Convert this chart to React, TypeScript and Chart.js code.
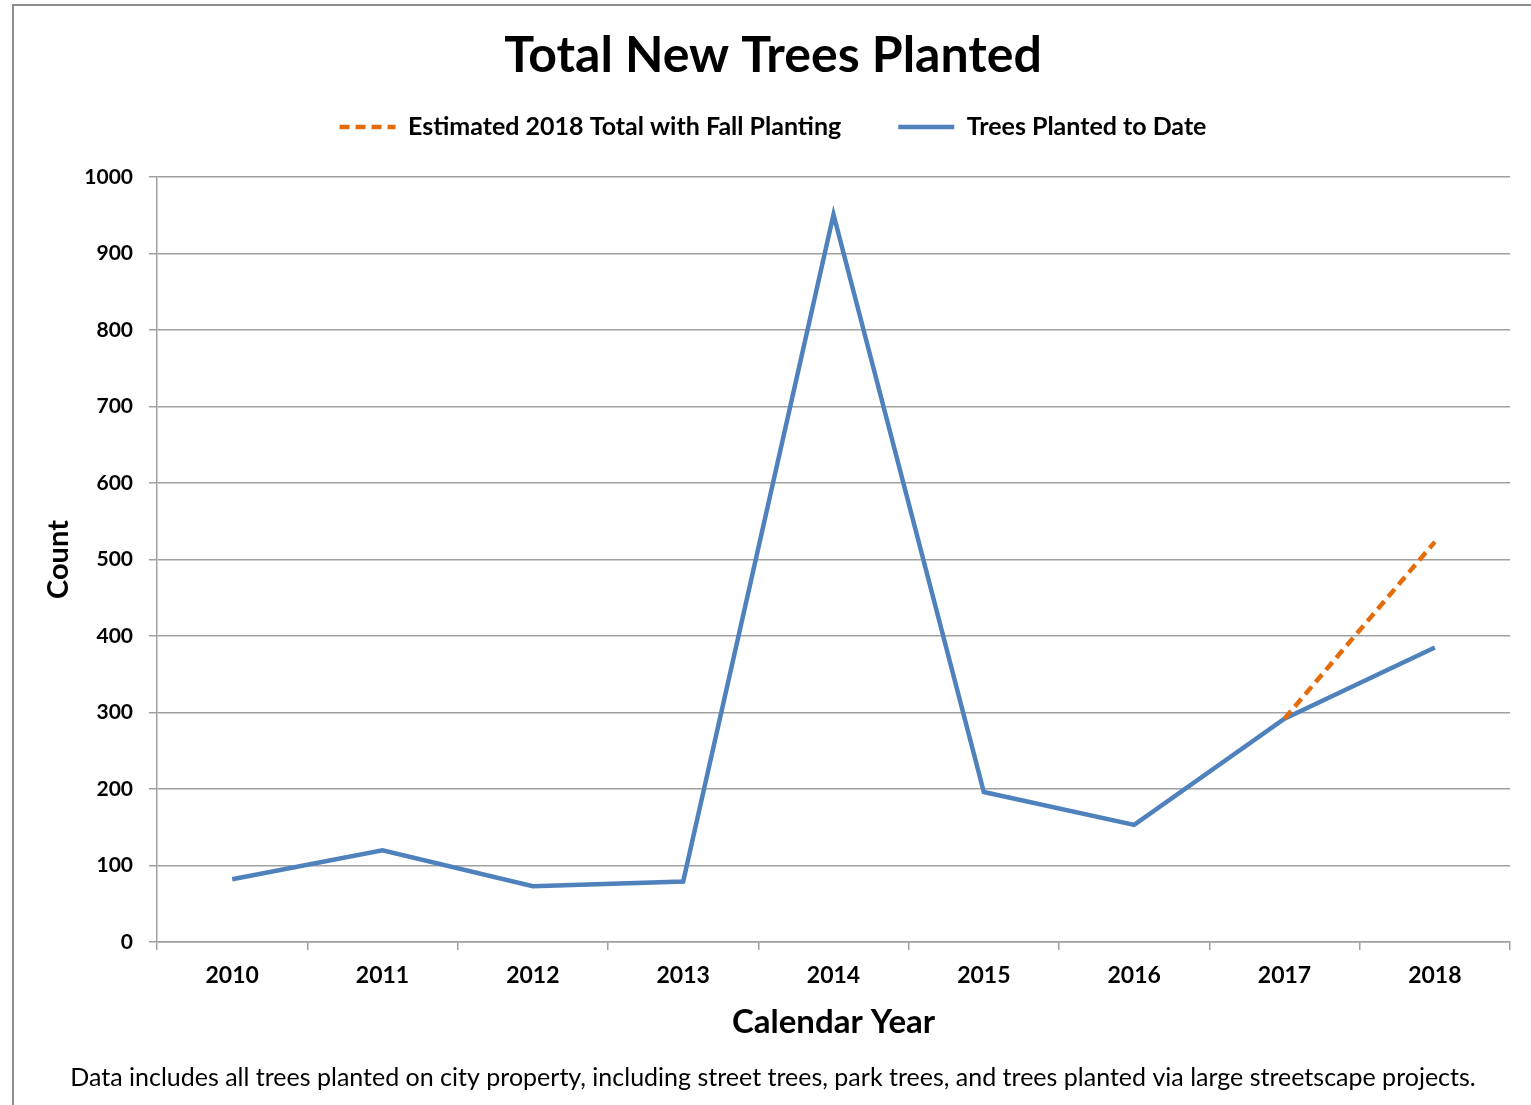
import React, { useEffect, useRef } from 'react';
import { Chart, registerables, layouts } from 'chart.js';

Chart.register(...registerables);

const years = ['2010', '2011', '2012', '2013', '2014', '2015', '2016', '2017', '2018'];
const plantedToDate = [82, 120, 73, 79, 951, 196, 153, 292, 385];
const estimatedTotal = [null, null, null, null, null, null, null, 292, 523];
const yTicks = [0, 100, 200, 300, 400, 500, 600, 700, 800, 900, 1000];

const FONT = 'Lato, "Noto Sans", sans-serif';
const GRID = '#a0a0a0';

const spacerPlugin = {
  id: 'legendSpacer',
  beforeInit(chart: any) {
    const box: any = {
      position: 'top',
      weight: 500,
      fullSize: true,
      options: {},
      width: 0,
      height: 0,
      top: 0,
      left: 0,
      right: 0,
      bottom: 0,
      isHorizontal() {
        return true;
      },
      update(maxWidth: number) {
        this.width = maxWidth;
        this.height = 27.5;
      },
      draw() {},
    };
    layouts.addBox(chart, box);
  },
};

const framePlugin = {
  id: 'frame',
  beforeDraw(chart: any) {
    const ctx = chart.ctx;
    ctx.save();
    ctx.strokeStyle = '#8e8e8e';
    ctx.lineWidth = 2;
    ctx.beginPath();
    ctx.moveTo(13, chart.height);
    ctx.lineTo(13, 5);
    ctx.lineTo(chart.width, 5);
    ctx.stroke();
    ctx.restore();
  },
};

export default function App() {
  const ref = useRef<HTMLCanvasElement>(null);
  useEffect(() => {
    if (!ref.current) return;
    const chart = new Chart(ref.current, {
      type: 'line',
      data: {
        labels: years,
        datasets: [
          {
            label: 'Estimated 2018 Total with Fall Planting',
            data: estimatedTotal,
            borderColor: '#e46c0a',
            backgroundColor: '#e46c0a',
            borderWidth: 4.5,
            borderDash: [10, 6],
            pointRadius: 0,
            tension: 0,
            spanGaps: false,
          },
          {
            label: 'Trees Planted to Date',
            data: plantedToDate,
            borderColor: '#4f81bd',
            backgroundColor: '#4f81bd',
            borderWidth: 4.5,
            pointRadius: 0,
            tension: 0,
          },
        ],
      },
      options: {
        animation: false,
        responsive: false,
        maintainAspectRatio: false,
        layout: { padding: { left: 36, right: 21, top: 0, bottom: 0 } },
        plugins: {
          title: {
            display: true,
            text: 'Total New Trees Planted',
            color: '#000',
            font: { family: FONT, size: 50, weight: 'bold' },
            padding: { top: 26, bottom: -28.5 },
          },
          subtitle: {
            display: true,
            position: 'bottom',
            text: 'Data includes all trees planted on city property, including street trees, park trees, and trees planted via large streetscape projects.',
            color: '#000',
            font: { family: FONT, size: 25, weight: 'normal' },
            padding: { top: 11, bottom: 12 },
          },
          legend: {
            display: true,
            position: 'top',
            labels: {
              usePointStyle: true,
              pointStyle: 'line',
              pointStyleWidth: 56,
              padding: 57,
              color: '#000',
              font: { family: FONT, size: 25, weight: 'bold' },
              generateLabels: (c: any) =>
                c.data.datasets.map((ds: any, i: number) => ({
                  text: ds.label,
                  fillStyle: ds.borderColor,
                  strokeStyle: ds.borderColor,
                  lineWidth: ds.borderWidth,
                  lineDash: ds.borderDash || [],
                  pointStyle: 'line',
                  hidden: false,
                  datasetIndex: i,
                  fontColor: '#000',
                })),
            },
          },
          tooltip: { enabled: false },
        },
        scales: {
          x: {
            offset: true,
            grid: {
              display: true,
              offset: true,
              drawOnChartArea: false,
              drawTicks: true,
              tickLength: 8,
              color: GRID,
              lineWidth: 1.5,
            },
            border: { display: true, color: GRID, width: 1.5 },
            ticks: {
              color: '#000',
              padding: 12,
              font: { family: FONT, size: 23, weight: 'bold' },
              maxRotation: 0,
            },
            title: {
              display: true,
              text: 'Calendar Year',
              color: '#000',
              font: { family: FONT, size: 33, weight: 'bold' },
              padding: { top: 0, bottom: 10 },
            },
            afterFit: (s: any) => {
              s.height = 110;
            },
          },
          y: {
            min: 0,
            max: 1000,
            afterBuildTicks: (s: any) => {
              s.ticks = yTicks.map((v) => ({ value: v }));
            },
            grid: {
              color: GRID,
              lineWidth: 1.5,
              drawTicks: true,
              tickLength: 8,
            },
            border: { display: true, color: GRID, width: 1.5 },
            ticks: {
              color: '#000',
              padding: 16,
              font: { family: FONT, size: 21, weight: 'bold' },
              callback: (v: any) => String(v),
            },
            title: {
              display: true,
              text: 'Count',
              color: '#000',
              font: { family: FONT, size: 29, weight: 'bold' },
              padding: { top: 5, bottom: 0 },
            },
            afterFit: (s: any) => {
              s.width = 121;
            },
          },
        },
      },
      plugins: [spacerPlugin, framePlugin],
    });
    return () => chart.destroy();
  }, []);

  return (
    <div style={{ position: 'absolute', left: 0, top: 0, width: 1531, height: 1105, background: '#fff' }}>
      <canvas ref={ref} width={1531} height={1105} style={{ width: 1531, height: 1105, display: 'block' }} />
    </div>
  );
}
